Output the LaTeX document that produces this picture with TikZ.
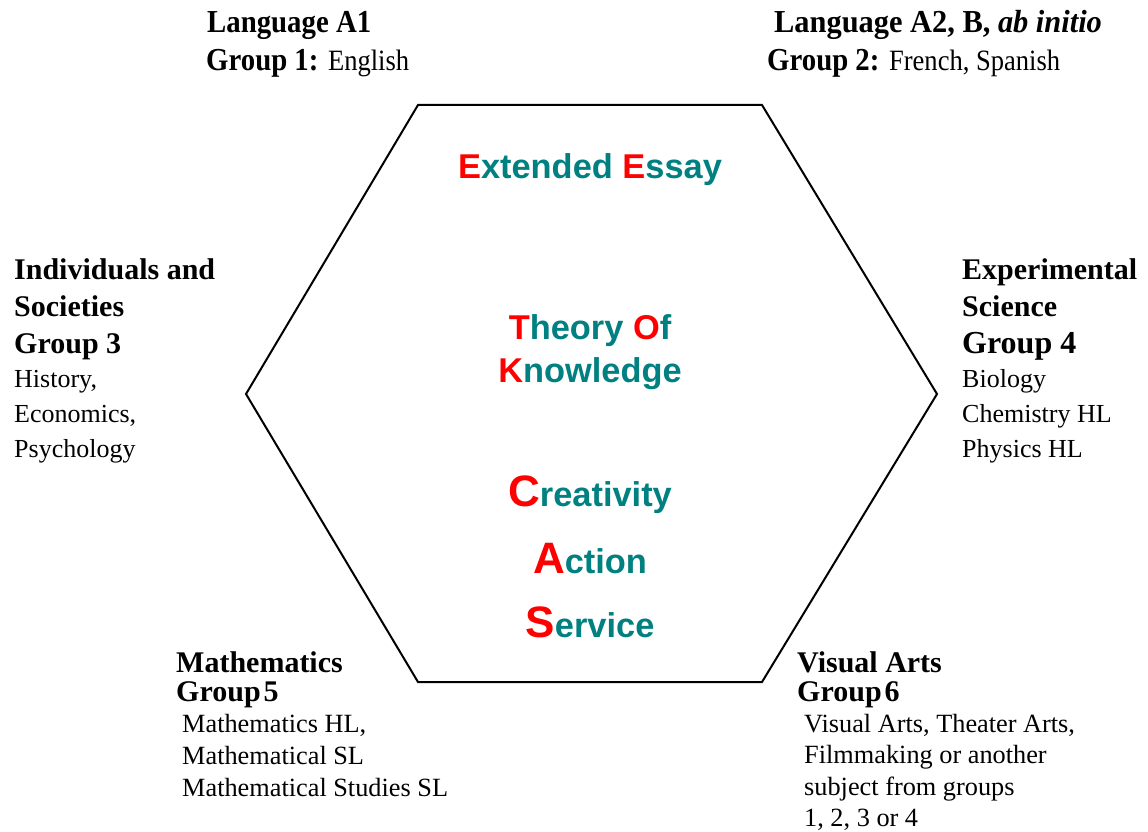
\documentclass[tikz,border=0pt]{standalone}
\usepackage{fontspec}
\setmainfont{Liberation Serif}
\newfontfamily\hexfont{Liberation Sans}
\definecolor{ibteal}{RGB}{0,128,128}
\definecolor{ibred}{RGB}{255,0,0}
\newcommand{\ibR}[1]{\textcolor{ibred}{#1}}
\newcommand{\ibBig}[1]{{\fontsize{44}{44}\selectfont\textcolor{ibred}{#1}}}
\tikzset{
  hexline/.style={draw=black, line width=2pt, line join=miter},
  core/.style={anchor=base, inner sep=0pt, text=ibteal, font=\hexfont\bfseries\fontsize{34.4}{40}\selectfont},
  grouplbl/.style={anchor=base west, inner sep=0pt, align=left},
  toplbl/.style={anchor=base west, inner sep=0pt}
}
\begin{document}
\begin{tikzpicture}[x=1pt,y=-1pt]
\useasboundingbox (0,0) rectangle (1148,832);
% hexagon
\coordinate (h1) at (418,105);
\coordinate (h2) at (762,105);
\coordinate (h3) at (937,394);
\coordinate (h4) at (762,682);
\coordinate (h5) at (418,682);
\coordinate (h6) at (246,394);
\draw[hexline] (h1) -- (h2) -- (h3) -- (h4) -- (h5) -- (h6) -- cycle;
% core
\node[core] (ee) at (590,178) {\ibR{E}xtended \ibR{E}ssay};
\node[core] (tok1) at (590,339) {\ibR{T}heory \ibR{O}f};
\node[core] (tok2) at (590,382) {\ibR{K}nowledge};
\node[core] (cas1) at (590,506) {\ibBig{C}reativity};
\node[core] (cas2) at (590,573) {\ibBig{A}ction};
\node[core] (cas3) at (590,637) {\ibBig{S}ervice};
% top labels
\node[toplbl] (g1a) at (207,33) {\scalebox{0.9}[1]{\fontsize{32}{32}\selectfont\bfseries Language A1}};
\node[toplbl] (g1b) at (206,71) {\scalebox{0.9}[1]{\fontsize{32}{32}\selectfont\bfseries Group 1: {\mdseries\fontsize{29.5}{29}\selectfont English}}};
\node[toplbl] (g2a) at (774,33) {\scalebox{0.95}[1]{\fontsize{32}{32}\selectfont\bfseries Language A2, B, \textit{ab initio}}};
\node[toplbl] (g2b) at (767,71) {\scalebox{0.9}[1]{\fontsize{32}{32}\selectfont\bfseries Group 2: {\mdseries\fontsize{29.5}{29}\selectfont French, Spanish}}};
% group 3
\node[grouplbl] (g3) at (14,279) {\vtop{\fontsize{30}{37}\selectfont\bfseries
  \hbox{Individuals and}\hbox{Societies}\hbox{Group 3}%
  \fontsize{26}{34}\selectfont\mdseries
  \hbox{History,}\baselineskip=35pt\hbox{Economics,}\hbox{Psychology}}};
% group 4
\node[grouplbl] (g4) at (962,279) {\vtop{\fontsize{30}{37}\selectfont\bfseries
  \hbox{Experimental}\hbox{Science}\hbox{\fontsize{32}{37}\selectfont Group 4}%
  \fontsize{26}{34}\selectfont\mdseries
  \hbox{Biology}\baselineskip=35pt\hbox{Chemistry HL}\hbox{Physics HL}}};
% group 5
\node[grouplbl] (g5) at (176,672) {\vtop{\fontsize{30}{29}\selectfont\bfseries
  \hbox{Mathematics}\hbox{Group\hspace{3pt}5}%
  \fontsize{26.3}{31}\selectfont\mdseries
  \hbox{\kern6pt Mathematics HL,}\baselineskip=32pt\hbox{\kern6pt Mathematical SL}\hbox{\kern6pt Mathematical Studies SL}}};
% group 6
\node[grouplbl] (g6) at (797,672) {\vtop{\fontsize{30}{29}\selectfont\bfseries
  \hbox{Visual Arts}\hbox{Group\hspace{3pt}6}%
  \fontsize{26.3}{31}\selectfont\mdseries
  \hbox{\kern7pt Visual Arts, Theater Arts,}\baselineskip=31.5pt\hbox{\kern7pt Filmmaking or another}\hbox{\kern7pt subject from groups}\hbox{\kern7pt 1, 2, 3 or 4}}};
\end{tikzpicture}
\end{document}
